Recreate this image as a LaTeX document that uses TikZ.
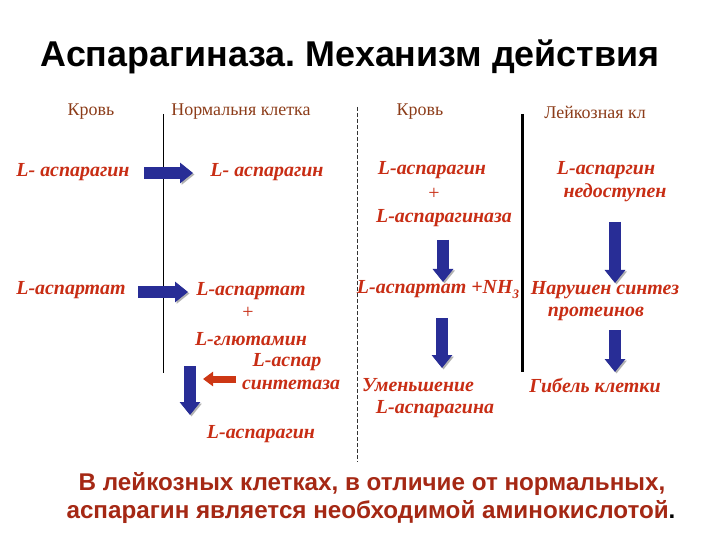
\documentclass[tikz,border=0pt]{standalone}
\usepackage{fontspec}
\setmainfont{Liberation Serif}
\newfontfamily\arialf{Liberation Sans}
\usetikzlibrary{arrows.meta}
\definecolor{txtred}{RGB}{200,45,20}
\definecolor{hdrbrown}{RGB}{140,60,25}
\definecolor{arrblue}{RGB}{40,45,150}
\definecolor{botred}{RGB}{165,40,20}
\definecolor{redarr}{RGB}{205,55,20}
\frenchspacing
\begin{document}
\begin{tikzpicture}[x=1bp,y=-1bp,
  hdr/.style={font=\fontsize{18}{20}\selectfont, text=hdrbrown, inner sep=0pt},
  itm/.style={font=\fontsize{20}{22}\selectfont\bfseries\itshape, text=txtred, inner sep=0pt},
  plus/.style={font=\fontsize{20}{22}\selectfont, text=txtred, inner sep=0pt},
  ttl/.style={font=\arialf\bfseries\fontsize{36}{40}\selectfont, text=black, inner sep=0pt},
  bot/.style={font=\arialf\bfseries\fontsize{24.3}{28}\selectfont, text=botred, inner sep=0pt},
  barr/.style={line width=12bp, draw=arrblue, -{Triangle[length=13bp,width=20bp]},
    preaction={draw=black!30, transform canvas={shift={(1.5bp,-1.5bp)}}}},
  rarr/.style={line width=7bp, draw=redarr, -{Triangle[length=10bp,width=14bp]}},
  vline/.style={draw=black, line width=1bp}
]
\useasboundingbox[fill=white] (0,0) rectangle (720,540);

% title
\node[ttl] (title) at (350,57) {Аспарагиназа. Механизм действия};

% headers
\node[hdr] (h1) at (91,112) {Кровь};
\node[hdr] (h2) at (241,112) {Нормальня клетка};
\node[hdr] (h3) at (420,112) {Кровь};
\node[hdr] (h4) at (595,112) {Лейкозная кл};

% separators
\draw[vline] (163,114) -- (163,373);
\draw[draw=black!80, line width=0.8bp, dash pattern=on 4bp off 2bp] (357,107) -- (357,462);
\draw[draw=black, line width=3bp] (522,114) -- (522,372);

% items
\node[itm] (a1) at (73,172) {L- аспарагин};
\node[itm] (a2) at (267,172) {L- аспарагин};
\node[itm] (b1) at (432,170) {L-аспарагин};
\node[plus] (b2) at (434,194) {+};
\node[itm] (b3) at (444,218) {L-аспарагиназа};
\node[itm] (c1) at (606,170) {L-аспаргин};
\node[itm] (c2) at (615,193) {недоступен};
\node[itm] (d1) at (71,290) {L-аспартат};
\node[itm] (d2) at (251,291) {L-аспартат};
\node[plus] (d3) at (248,313) {+};
\node[itm] (d4) at (251,339) {L-глютамин};
\node[itm] (d5) at (287,362) {L-аспар};
\node[itm] (d6) at (291,385) {синтетаза};
\node[itm] (d7) at (261,434) {L-аспарагин};
\node[itm] (e1) at (438,290) {L-аспартат +NH\raisebox{-5bp}{\fontsize{13}{13}\selectfont 3}};
\node[itm] (f1) at (605,290) {Нарушен синтез};
\node[itm] (f2) at (596,314) {протеинов};
\node[itm] (g1) at (418,385) {Уменьшение};
\node[itm] (g2) at (435,409) {L-аспарагина};
\node[itm] (k1) at (595,385) {Гибель клетки};

% arrow coordinates
\coordinate (p1s) at (144,173); \coordinate (p1e) at (193,173);
\coordinate (p2s) at (138,292); \coordinate (p2e) at (188,292);
\coordinate (q1s) at (443,240); \coordinate (q1e) at (443,282);
\coordinate (q2s) at (615,222); \coordinate (q2e) at (615,283);
\coordinate (q3s) at (442,318); \coordinate (q3e) at (442,368);
\coordinate (q4s) at (615,330); \coordinate (q4e) at (615,372);
\coordinate (q5s) at (190,366); \coordinate (q5e) at (190,415);
\coordinate (r1s) at (236,379); \coordinate (r1e) at (203,379);

\draw[barr] (p1s) -- (p1e);
\draw[barr] (p2s) -- (p2e);
\draw[barr] (q1s) -- (q1e);
\draw[barr] (q2s) -- (q2e);
\draw[barr] (q3s) -- (q3e);
\draw[barr] (q4s) -- (q4e);
\draw[barr] (q5s) -- (q5e);
\draw[rarr] (r1s) -- (r1e);

% bottom text
\node[bot] (m1) at (372,484) {В лейкозных клетках, в отличие от нормальных,};
\node[bot] (m2) at (371,512) {аспарагин является необходимой аминокислотой{\color{black}.}};
\end{tikzpicture}
\end{document}
